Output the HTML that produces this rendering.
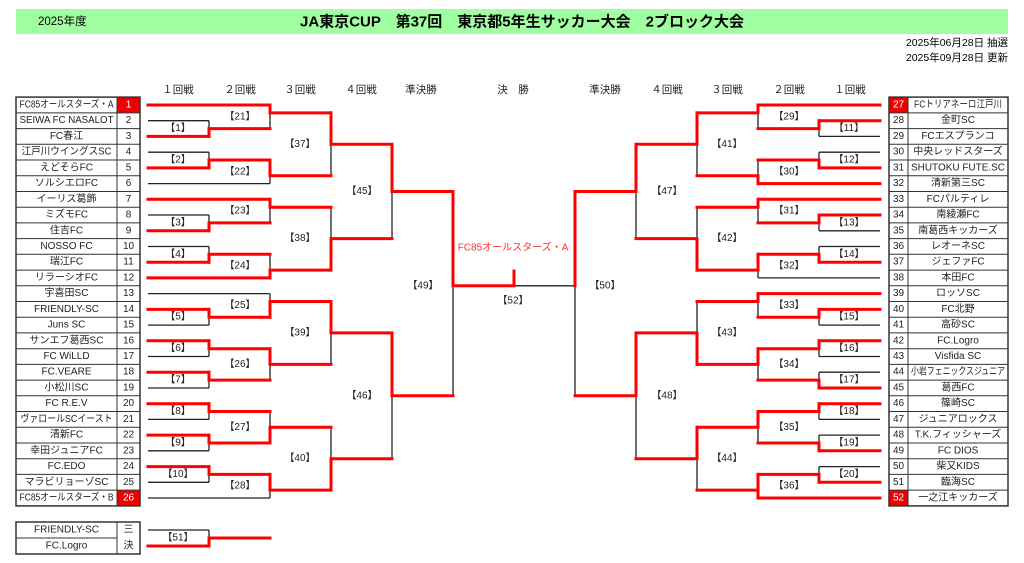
<!DOCTYPE html>
<html><head><meta charset="utf-8"><style>
html,body{margin:0;padding:0;background:#fff;}
svg{display:block;font-family:"Liberation Sans","Noto Sans CJK JP",sans-serif;}
.t{font-size:10px;text-anchor:middle;dominant-baseline:central;fill:#222;}
.l{font-size:10px;text-anchor:middle;dominant-baseline:central;fill:#222;}
.h{font-size:10.5px;text-anchor:middle;dominant-baseline:central;fill:#222;}
</style></head><body>
<svg width="1024" height="563" viewBox="0 0 1024 563" xmlns="http://www.w3.org/2000/svg">
<rect x="16" y="9" width="992" height="25" fill="#a0ffa0"/>
<text x="38" y="22" style="font-size:11.5px;dominant-baseline:central">2025年度</text>
<text x="522" y="22" style="font-size:15px;font-weight:bold;text-anchor:middle;dominant-baseline:central">JA東京CUP　第37回　東京都5年生サッカー大会　2ブロック大会</text>
<text x="1008" y="43" style="font-size:10.5px;text-anchor:end;dominant-baseline:central">2025年06月28日  抽選</text>
<text x="1008" y="58" style="font-size:10.5px;text-anchor:end;dominant-baseline:central">2025年09月28日  更新</text>

<g class="h">
<text x="178" y="90">１回戦</text><text x="240" y="90">２回戦</text><text x="300" y="90">３回戦</text><text x="361" y="90">４回戦</text><text x="421" y="90">準決勝</text><text x="513" y="90">決　勝</text><text x="605" y="90">準決勝</text><text x="667" y="90">４回戦</text><text x="727" y="90">３回戦</text><text x="789" y="90">２回戦</text><text x="850" y="90">１回戦</text>
</g>

<rect x="117" y="97.1" width="23" height="15.7" fill="#e00"/>
<rect x="117" y="490.1" width="23" height="15.7" fill="#e00"/>
<rect x="889" y="97.1" width="19" height="15.7" fill="#e00"/>
<rect x="889" y="490.1" width="19" height="15.7" fill="#e00"/>
<g stroke="#333" stroke-width="1" fill="none">
<rect x="16" y="97.1" width="124" height="408.8" stroke-width="1.5"/>
<path d="M117 97.1V505.9M16 112.9H140M16 128.6H140M16 144.3H140M16 160H140M16 175.7H140M16 191.5H140M16 207.2H140M16 222.9H140M16 238.6H140M16 254.3H140M16 270.1H140M16 285.8H140M16 301.5H140M16 317.2H140M16 332.9H140M16 348.7H140M16 364.4H140M16 380.1H140M16 395.8H140M16 411.5H140M16 427.3H140M16 443H140M16 458.7H140M16 474.4H140M16 490.1H140"/>
<rect x="889" y="97.1" width="119" height="408.8" stroke-width="1.5"/>
<path d="M908 97.1V505.9M889 112.9H1008M889 128.6H1008M889 144.3H1008M889 160H1008M889 175.7H1008M889 191.5H1008M889 207.2H1008M889 222.9H1008M889 238.6H1008M889 254.3H1008M889 270.1H1008M889 285.8H1008M889 301.5H1008M889 317.2H1008M889 332.9H1008M889 348.7H1008M889 364.4H1008M889 380.1H1008M889 395.8H1008M889 411.5H1008M889 427.3H1008M889 443H1008M889 458.7H1008M889 474.4H1008M889 490.1H1008"/>
<rect x="16" y="522" width="124" height="32" stroke-width="1.5"/>
<path d="M117 522V554M16 538H117"/>
</g>
<g class="t">
<text x="66.5" y="105" textLength="94" lengthAdjust="spacingAndGlyphs">FC85オールスターズ・A</text>
<text x="66.5" y="120.7" textLength="94" lengthAdjust="spacingAndGlyphs">SEIWA FC NASALOT</text>
<text x="66.5" y="136.4">FC春江</text>
<text x="66.5" y="152.2" textLength="90" lengthAdjust="spacingAndGlyphs">江戸川ウイングスSC</text>
<text x="66.5" y="167.9">えどそらFC</text>
<text x="66.5" y="183.6">ソルシエロFC</text>
<text x="66.5" y="199.3">イーリス葛飾</text>
<text x="66.5" y="215">ミズモFC</text>
<text x="66.5" y="230.8">住吉FC</text>
<text x="66.5" y="246.5">NOSSO FC</text>
<text x="66.5" y="262.2">瑞江FC</text>
<text x="66.5" y="277.9">リラーシオFC</text>
<text x="66.5" y="293.6">宇喜田SC</text>
<text x="66.5" y="309.4">FRIENDLY-SC</text>
<text x="66.5" y="325.1">Juns SC</text>
<text x="66.5" y="340.8">サンエフ葛西SC</text>
<text x="66.5" y="356.5">FC WiLLD</text>
<text x="66.5" y="372.2">FC.VEARE</text>
<text x="66.5" y="388">小松川SC</text>
<text x="66.5" y="403.7">FC R.E.V</text>
<text x="66.5" y="419.4" textLength="92" lengthAdjust="spacingAndGlyphs">ヴァロールSCイースト</text>
<text x="66.5" y="435.1">清新FC</text>
<text x="66.5" y="450.8">幸田ジュニアFC</text>
<text x="66.5" y="466.6">FC.EDO</text>
<text x="66.5" y="482.3">マラビリョーゾSC</text>
<text x="66.5" y="498" textLength="94" lengthAdjust="spacingAndGlyphs">FC85オールスターズ・B</text>
<text x="66.5" y="530">FRIENDLY-SC</text>
<text x="66.5" y="546">FC.Logro</text>
<text x="128.5" y="530">三</text><text x="128.5" y="546">決</text>
<text x="128.5" y="105" style="fill:#fff">1</text>
<text x="128.5" y="120.7">2</text><text x="128.5" y="136.4">3</text><text x="128.5" y="152.2">4</text><text x="128.5" y="167.9">5</text><text x="128.5" y="183.6">6</text><text x="128.5" y="199.3">7</text><text x="128.5" y="215">8</text><text x="128.5" y="230.8">9</text><text x="128.5" y="246.5">10</text><text x="128.5" y="262.2">11</text><text x="128.5" y="277.9">12</text><text x="128.5" y="293.6">13</text><text x="128.5" y="309.4">14</text><text x="128.5" y="325.1">15</text><text x="128.5" y="340.8">16</text><text x="128.5" y="356.5">17</text><text x="128.5" y="372.2">18</text><text x="128.5" y="388">19</text><text x="128.5" y="403.7">20</text><text x="128.5" y="419.4">21</text><text x="128.5" y="435.1">22</text><text x="128.5" y="450.8">23</text><text x="128.5" y="466.6">24</text><text x="128.5" y="482.3">25</text>
<text x="128.5" y="498" style="fill:#fff">26</text>
<text x="898.5" y="105" style="fill:#fff">27</text>
<text x="898.5" y="120.7">28</text><text x="898.5" y="136.4">29</text><text x="898.5" y="152.2">30</text><text x="898.5" y="167.9">31</text><text x="898.5" y="183.6">32</text><text x="898.5" y="199.3">33</text><text x="898.5" y="215">34</text><text x="898.5" y="230.8">35</text><text x="898.5" y="246.5">36</text><text x="898.5" y="262.2">37</text><text x="898.5" y="277.9">38</text><text x="898.5" y="293.6">39</text><text x="898.5" y="309.4">40</text><text x="898.5" y="325.1">41</text><text x="898.5" y="340.8">42</text><text x="898.5" y="356.5">43</text><text x="898.5" y="372.2">44</text><text x="898.5" y="388">45</text><text x="898.5" y="403.7">46</text><text x="898.5" y="419.4">47</text><text x="898.5" y="435.1">48</text><text x="898.5" y="450.8">49</text><text x="898.5" y="466.6">50</text><text x="898.5" y="482.3">51</text>
<text x="898.5" y="498" style="fill:#fff">52</text>
<text x="958" y="105" textLength="88" lengthAdjust="spacingAndGlyphs">FCトリアネーロ江戸川</text>
<text x="958" y="120.7">金町SC</text>
<text x="958" y="136.4">FCエスプランコ</text>
<text x="958" y="152.2">中央レッドスターズ</text>
<text x="958" y="167.9" textLength="94" lengthAdjust="spacingAndGlyphs">SHUTOKU FUTE.SC</text>
<text x="958" y="183.6">清新第三SC</text>
<text x="958" y="199.3">FCパルティレ</text>
<text x="958" y="215">南綾瀬FC</text>
<text x="958" y="230.8">南葛西キッカーズ</text>
<text x="958" y="246.5">レオーネSC</text>
<text x="958" y="262.2">ジェファFC</text>
<text x="958" y="277.9">本田FC</text>
<text x="958" y="293.6">ロッソSC</text>
<text x="958" y="309.4">FC北野</text>
<text x="958" y="325.1">高砂SC</text>
<text x="958" y="340.8">FC.Logro</text>
<text x="958" y="356.5">Visfida SC</text>
<text x="958" y="372.2" textLength="94" lengthAdjust="spacingAndGlyphs">小岩フェニックスジュニア</text>
<text x="958" y="388">葛西FC</text>
<text x="958" y="403.7">篠崎SC</text>
<text x="958" y="419.4">ジュニアロックス</text>
<text x="958" y="435.1">T.K.フィッシャーズ</text>
<text x="958" y="450.8">FC DIOS</text>
<text x="958" y="466.6">柴又KIDS</text>
<text x="958" y="482.3">臨海SC</text>
<text x="958" y="498">一之江キッカーズ</text>
</g>

<g stroke="#222" stroke-width="1.3" fill="none">
<path d="M148 120.7H209M148 152.2H209M148 183.6H270M148 215H209M148 246.5H209M148 293.6H270M148 325.1H209M148 356.5H209M148 388H209M148 419.4H209M148 450.8H209M148 482.3H209M148 498H270"/>
<path d="M209 120.7V136.4M209 152.2V167.9M209 215V230.8M209 246.5V262.2M209 309.4V325.1M209 340.8V356.5M209 372.2V388M209 403.7V419.4M209 435.1V450.8M209 466.6V482.3M270 105V128.6M270 160V183.6M270 199.3V222.9M270 254.3V277.9M270 293.6V317.2M270 348.7V380.1M270 411.5V443M270 474.4V498M331 112.9V175.7M331 207.2V270.1M331 301.5V364.4M331 427.3V490.1M392 144.3V238.6M392 332.9V458.7M453 191.5V395.8"/>
<path d="M880 136.4H819M880 152.2H819M880 230.8H819M880 246.5H819M880 277.9H758M880 325.1H819M880 356.5H819M880 372.2H819M880 419.4H819M880 435.1H819M880 466.6H819"/>
<path d="M819 120.7V136.4M819 152.2V167.9M819 215V230.8M819 246.5V262.2M819 309.4V325.1M819 340.8V356.5M819 372.2V388M819 403.7V419.4M819 435.1V450.8M819 466.6V482.3M758 105V128.6M758 160V183.6M758 199.3V222.9M758 254.3V277.9M758 293.6V317.2M758 348.7V380.1M758 411.5V443M758 474.4V498M697 112.9V175.7M697 207.2V270.1M697 301.5V364.4M697 427.3V490.1M636 144.3V238.6M636 332.9V458.7M575 191.5V395.8"/>
<path d="M514 285.8H575M148 530H209M209 530V546"/>
</g>

<g stroke="#ff0000" stroke-width="3" fill="none" stroke-linejoin="miter" stroke-linecap="square">
<path d="M148 105H270M148 136.4H209M148 167.9H209M148 199.3H270M148 230.8H209M148 262.2H209M148 277.9H270M148 309.4H209M148 340.8H209M148 372.2H209M148 403.7H209M148 435.1H209M148 466.6H209"/>
<path d="M209 136.4V128.6H270M209 167.9V160H270M209 230.8V222.9H270M209 262.2V254.3H270M209 309.4V317.2H270M209 340.8V348.7H270M209 372.2V380.1H270M209 403.7V411.5H270M209 435.1V443H270M209 466.6V474.4H270"/>
<path d="M270 105V112.9H331M270 160V175.7H331M270 199.3V207.2H331M270 277.9V270.1H331M270 317.2V301.5H331M270 348.7V364.4H331M270 443V427.3H331M270 474.4V490.1H331"/>
<path d="M331 112.9V144.3H392M331 270.1V238.6H392M331 301.5V332.9H392M331 490.1V458.7H392M392 144.3V191.5H453M392 332.9V395.8H453M453 191.5V285.8H514M514 285.8V271"/>
<path d="M880 105H758M880 120.7H819M880 167.9H819M880 183.6H758M880 199.3H758M880 215H819M880 262.2H819M880 293.6H758M880 309.4H819M880 340.8H819M880 388H819M880 403.7H819M880 450.8H819M880 482.3H819M880 498H758"/>
<path d="M819 120.7V128.6H758M819 167.9V160H758M819 215V222.9H758M819 262.2V254.3H758M819 309.4V317.2H758M819 340.8V348.7H758M819 388V380.1H758M819 403.7V411.5H758M819 450.8V443H758M819 482.3V474.4H758"/>
<path d="M758 105V112.9H697M758 183.6V175.7H697M758 199.3V207.2H697M758 254.3V270.1H697M758 293.6V301.5H697M758 348.7V364.4H697M758 411.5V427.3H697M758 474.4V490.1H697M758 490.1V498"/>
<path d="M697 112.9V144.3H636M697 270.1V238.6H636M697 364.4V332.9H636M697 427.3V458.7H636M636 144.3V191.5H575M636 332.9V395.8H575M575 191.5V285.8"/>
<path d="M148 546H209V538H270"/>
</g>

<g class="l">
<text x="178" y="128.6">【1】</text><text x="178" y="160">【2】</text><text x="178" y="222.9">【3】</text><text x="178" y="254.3">【4】</text><text x="178" y="317.2">【5】</text><text x="178" y="348.7">【6】</text><text x="178" y="380.1">【7】</text><text x="178" y="411.5">【8】</text><text x="178" y="443">【9】</text><text x="178" y="474.4">【10】</text>
<text x="240" y="116.8">【21】</text><text x="240" y="171.8">【22】</text><text x="240" y="211.1">【23】</text><text x="240" y="266.1">【24】</text><text x="240" y="305.4">【25】</text><text x="240" y="364.4">【26】</text><text x="240" y="427.3">【27】</text><text x="240" y="486.2">【28】</text>
<text x="300" y="144.3">【37】</text><text x="300" y="238.6">【38】</text><text x="300" y="332.9">【39】</text><text x="300" y="458.7">【40】</text>
<text x="362" y="191.5">【45】</text><text x="362" y="395.8">【46】</text>
<text x="423" y="286">【49】</text><text x="605" y="286">【50】</text>
<text x="513" y="301">【52】</text>
<text x="178" y="538">【51】</text>
<text x="849" y="128.6">【11】</text><text x="849" y="160">【12】</text><text x="849" y="222.9">【13】</text><text x="849" y="254.3">【14】</text><text x="849" y="317.2">【15】</text><text x="849" y="348.7">【16】</text><text x="849" y="380.1">【17】</text><text x="849" y="411.5">【18】</text><text x="849" y="443">【19】</text><text x="849" y="474.4">【20】</text>
<text x="789" y="116.8">【29】</text><text x="789" y="171.8">【30】</text><text x="789" y="211.1">【31】</text><text x="789" y="266.1">【32】</text><text x="789" y="305.4">【33】</text><text x="789" y="364.4">【34】</text><text x="789" y="427.3">【35】</text><text x="789" y="486.2">【36】</text>
<text x="727" y="144.3">【41】</text><text x="727" y="238.6">【42】</text><text x="727" y="332.9">【43】</text><text x="727" y="458.7">【44】</text>
<text x="667" y="191.5">【47】</text><text x="667" y="395.8">【48】</text>
<text x="513" y="248" style="fill:#ff3030">FC85オールスターズ・A</text>
</g>
</svg>
</body></html>
